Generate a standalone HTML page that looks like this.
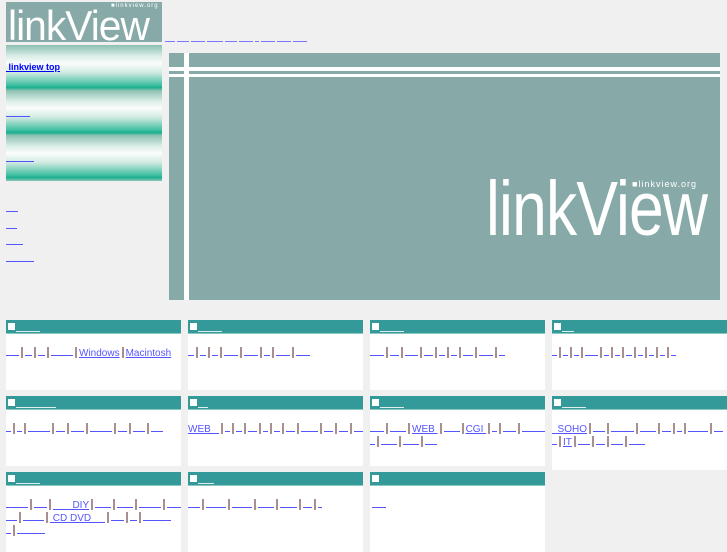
<!DOCTYPE html>
<html><head><meta charset="utf-8">
<style>
*{margin:0;padding:0;box-sizing:border-box}
body{width:727px;height:545px;background:#f0f0f0;position:relative;overflow:hidden;font-family:"Liberation Sans","Noto Sans CJK JP",sans-serif;font-size:10px}
.abs{position:absolute}
.logo{left:6px;top:2px;width:156px;height:40px;background:#87aaa9;overflow:hidden}
.band{left:6px;width:156px;height:46px;background:linear-gradient(#8cbfb0 0%,#dcefe9 25%,#fbfdfc 40%,#cfe9e1 60%,#3cbea0 88%,#1aae90 92%,#8cc7b5 100%)}
.hero{left:169px;top:53px;width:551px;height:247px;background:#87aaa9;overflow:hidden}
.card{background:#fff;overflow:hidden}
.hd{height:14px;background:#339999;border-bottom:1px solid #8cc7c0;position:relative}
.hd i{position:absolute;left:2px;top:3px;width:7px;height:7px;background:#fff}
.hd b{position:absolute;left:10px;top:11px;height:1px;background:#dfeeee}
.line{position:absolute;left:0;white-space:nowrap;font-size:10px;line-height:13px;color:#55f}
.u{display:inline-block;height:1px;background:#55f;vertical-align:0px}
.s{display:inline-block;width:2px;height:11px;background:#a89090;margin:0 2px;vertical-align:-2px}
.t{color:#55f;text-decoration:underline}
</style></head><body>
<div class="abs logo">
 <div class="abs" style="left:2px;top:0px;font-size:42px;line-height:48px;color:#fff;transform:scaleX(.97);transform-origin:0 0;letter-spacing:-1px">linkView</div>
 <div class="abs" style="left:105px;top:1px;font-size:6px;color:#fff;letter-spacing:1px;background:#87aaa9">■linkview.org</div>
</div>
<div class="abs" id="topnav" style="left:165px;top:41px;height:2px"></div>

<div class="abs band" style="top:45px"></div>
<div class="abs band" style="top:90px"></div>
<div class="abs band" style="top:135px;height:46px"></div>
<div class="abs" style="left:6px;top:62px;font-size:9px;font-weight:bold;color:#00f;text-decoration:underline">&nbsp;linkview top</div>
<div class="abs" style="left:6px;top:116px;width:24px;height:1px;background:#55f"></div>
<div class="abs" style="left:6px;top:161px;width:28px;height:1px;background:#55f"></div>
<div class="abs" style="left:6px;top:211px;width:12px;height:1px;background:#55f"></div>
<div class="abs" style="left:6px;top:228px;width:11px;height:1px;background:#55f"></div>
<div class="abs" style="left:6px;top:244px;width:17px;height:1px;background:#55f"></div>
<div class="abs" style="left:6px;top:261px;width:28px;height:1px;background:#55f"></div>

<div class="abs hero">
 <div class="abs" style="left:15px;top:0;width:5px;height:247px;background:#fff"></div>
 <div class="abs" style="left:0;top:14px;width:551px;height:4px;background:#fff"></div>
 <div class="abs" style="left:0;top:21px;width:551px;height:3px;background:#fff"></div>
 <div class="abs" style="left:317px;top:118px;font-size:77px;line-height:77px;color:#fff;transform:scaleX(.81);transform-origin:0 0;letter-spacing:-1px">linkView</div>
 <div class="abs" style="left:463px;top:126px;font-size:9px;color:#fff;letter-spacing:1px;background:#87aaa9">■linkview.org</div>
</div>
<div id="cards"></div>
<script>
var nav=[10,12,14,16,12,14,4,14,14,14];
var h='',x=0;nav.forEach(function(w){h+='<div class="abs" style="left:'+x+'px;top:0;width:'+w+'px;height:1px;background:#77f"></div>';x+=w+2});
document.getElementById('topnav').innerHTML=h;
function seg(a){return a.map(function(e){return typeof e=='number'?'<span class="u" style="width:'+e+'px"></span>':'<span class="t">'+e+'</span>'}).join('<span class="s"></span>')}
var cols=[6,188,370,552];
var cards=[
 [0,320,70,24,[[0,[13,7,7,22,'Windows','Macintosh']]]],
 [1,320,70,24,[[0,[6,6,6,14,14,6,14,14]]]],
 [2,320,70,24,[[0,[14,9,13,9,6,6,10,14,6]]]],
 [3,320,70,12,[[0,[5,5,5,13,5,5,6,5,5,5,5]]]],
 [0,396,70,40,[[0,[5,5,22,9,13,22,9,12,12]]]],
 [1,396,70,10,[[0,['WEB&nbsp;&nbsp;&nbsp;',5,6,9,5,6,9,17,9,9,11]]]],
 [2,396,70,24,[[0,[14,16,'WEB&nbsp;',16,'CGI&nbsp;',5,13,25]],[13,[5,16,16,12]]]],
 [3,396,74,24,[[0,['&nbsp;&nbsp;SOHO',12,23,16,9,5,20,9]],[13,[5,'IT',12,9,12,16]]]],
 [0,472,80,24,[[0,[22,13,'&nbsp;&nbsp;&nbsp;&nbsp;&nbsp;&nbsp;&nbsp;DIY',16,16,22,17,4]],[13,[11,21,'&nbsp;CD DVD&nbsp;&nbsp;&nbsp;&nbsp;&nbsp;',13,7,28]],[26,[5,28]]]],
 [1,472,80,16,[[0,[12,20,20,16,17,9,4]]]],
 [2,472,80,0,[[0,null]]]
];
var out='';
cards.forEach(function(c){
 var top=c[1],ln='';
 c[4].forEach(function(l){
  var s=l[1]===null?'<span style="display:inline-block;width:14px;height:1px;background:#55f;margin-left:2px"></span>':seg(l[1]);
  ln+='<div class="line" style="top:'+(27+l[0])+'px">'+s+'</div>';
 });
 out+='<div class="abs card" style="left:'+cols[c[0]]+'px;top:'+top+'px;width:175px;height:'+c[2]+'px"><div class="hd"><i></i><b style="width:'+c[3]+'px"></b></div>'+ln+'</div>';
});
document.getElementById('cards').innerHTML=out;
</script>
</body></html>
